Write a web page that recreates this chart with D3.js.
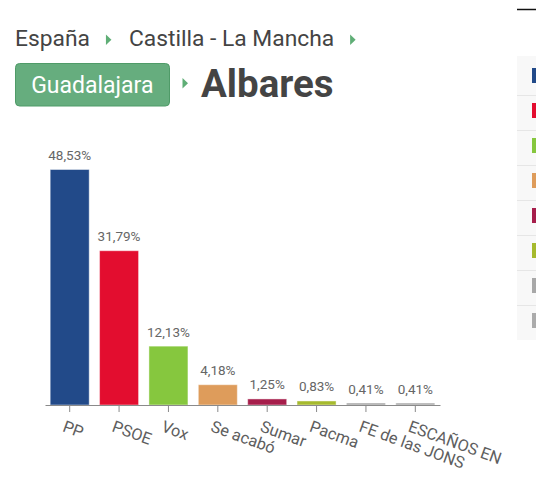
<!DOCTYPE html>
<html lang="es">
<head>
<meta charset="UTF-8">
<title>Albares - resultados</title>
<script src="https://d3js.org/d3.v7.min.js"></script>
<style>
  body { margin: 0; background: #fff; }
  svg { display: block; font-family: Roboto, "Noto Sans", sans-serif; }
</style>
</head>
<body>
<svg id="chart" width="536" height="489"></svg>
<script>
    // data
    const breadcrumb = ["España", "Castilla - La Mancha"];
    const province = "Guadalajara";
    const town = "Albares";
    const parties = ["PP", "PSOE", "Vox", "Se acabó", "Sumar", "Pacma", "FE de las JONS", "ESCAÑOS EN"];
    const votes = [48.53, 31.79, 12.13, 4.18, 1.25, 0.83, 0.41, 0.41];
    const colors = ["#224a89", "#e30d2f", "#86c73e", "#de9c5b", "#a61e4b", "#a6ba2e", "#a8a8a8", "#ababab"];

    const svg = d3.select("#chart");
    const green = "#5fae76";

    // spanish number format: 48,53%
    const es = d3.formatLocale({decimal: ",", thousands: ".", grouping: [3], currency: ["", "€"]});
    const fmt = v => es.format(".2f")(v) + "%";

    function arrow(x, yc) {
        svg.append("path")
            .attr("d", `M${x},${yc - 5.3}L${x + 5.5},${yc}L${x},${yc + 5.3}Z`)
            .attr("fill", green);
    }

    // breadcrumb line
    let cx = 15;
    breadcrumb.forEach(name => {
        const t = svg.append("text")
            .attr("x", cx)
            .attr("y", 46)
            .attr("font-size", 22.8)
            .attr("font-weight", 400)
            .attr("fill", "#444")
            .text(name);
        const end = cx + t.node().getComputedTextLength();
        arrow(end + 16, 39.7);
        cx = end + 39;
    });

    // province button + town name
    svg.append("rect")
        .attr("x", 15.5).attr("y", 63.5)
        .attr("width", 154).attr("height", 42.5)
        .attr("rx", 4)
        .attr("fill", "#66ad7e")
        .attr("stroke", "#4f9b68");
    svg.append("text")
        .attr("x", 92.3).attr("y", 92.5)
        .attr("text-anchor", "middle")
        .attr("font-size", 23)
        .attr("font-weight", 400)
        .attr("fill", "#fff")
        .text(province);
    arrow(182.5, 83.3);
    svg.append("text")
        .attr("x", 201).attr("y", 96.5)
        .attr("font-size", 38.5)
        .attr("font-weight", 700)
        .attr("fill", "#444")
        .text(town);

    // bar chart
    const x = d3.scaleBand()
        .domain(parties)
        .range([45, 440])
        .paddingInner(0.21)
        .paddingOuter(0.105);

    const y = d3.scaleLinear()
        .domain([0, d3.max(votes)])
        .range([405, 169.5]);

    const data = parties.map((p, i) => ({party: p, value: votes[i], color: colors[i]}));

    svg.append("defs").append("clipPath").attr("id", "clipChart")
        .append("rect").attr("x", 0).attr("y", 0).attr("width", 503).attr("height", 489);

    const plot = svg.append("g").attr("clip-path", "url(#clipChart)");

    plot.selectAll("rect.bar")
        .data(data)
        .join("rect")
        .attr("class", "bar")
        .attr("x", d => x(d.party))
        .attr("y", d => y(d.value))
        .attr("width", x.bandwidth())
        .attr("height", d => y(0) - y(d.value))
        .attr("fill", d => d.color)
        .attr("stroke", "rgba(255,255,255,0.45)")
        .attr("stroke-width", 1);

    plot.selectAll("text.val")
        .data(data)
        .join("text")
        .attr("class", "val")
        .attr("x", d => x(d.party) + x.bandwidth() / 2)
        .attr("y", d => y(d.value) - 9.5)
        .attr("text-anchor", "middle")
        .attr("font-size", 13.5)
        .attr("font-weight", 400)
        .attr("fill", "#666")
        .text(d => fmt(d.value));

    const axis = plot.append("g")
        .attr("transform", "translate(0,405)")
        .call(d3.axisBottom(x).tickSize(7).tickSizeOuter(0));

    axis.select(".domain").attr("stroke", "#8a8a8a");
    axis.selectAll(".tick line").attr("stroke", "#8a8a8a");
    axis.selectAll(".tick text")
        .attr("x", -8)
        .attr("y", 26)
        .attr("dy", null)
        .attr("text-anchor", "start")
        .attr("transform", "rotate(20,-8,26)")
        .attr("font-family", "Roboto, sans-serif")
        .attr("font-size", 16.3)
        .attr("fill", "#5e5e5e");

    // side table, mostly out of view
    const panel = svg.append("g");
    svg.append("line")
        .attr("x1", 517).attr("x2", 536)
        .attr("y1", 9.5).attr("y2", 9.5)
        .attr("stroke", "#111").attr("stroke-width", 1.5);
    panel.append("rect")
        .attr("x", 517).attr("y", 56)
        .attr("width", 19).attr("height", 284)
        .attr("fill", "#f8f8f8");
    const rowY = d3.scaleBand().domain(parties).range([60, 340]);
    panel.selectAll("line.sep")
        .data(parties.slice(1))
        .join("line")
        .attr("class", "sep")
        .attr("x1", 517).attr("x2", 536)
        .attr("y1", d => rowY(d) + 0.5)
        .attr("y2", d => rowY(d) + 0.5)
        .attr("stroke", "#e6e6e6");
    panel.selectAll("rect.mark")
        .data(data)
        .join("rect")
        .attr("class", "mark")
        .attr("x", 532)
        .attr("y", d => rowY(d.party) + 8)
        .attr("width", 6)
        .attr("height", 15)
        .attr("fill", d => d.color);
</script>
</body>
</html>
